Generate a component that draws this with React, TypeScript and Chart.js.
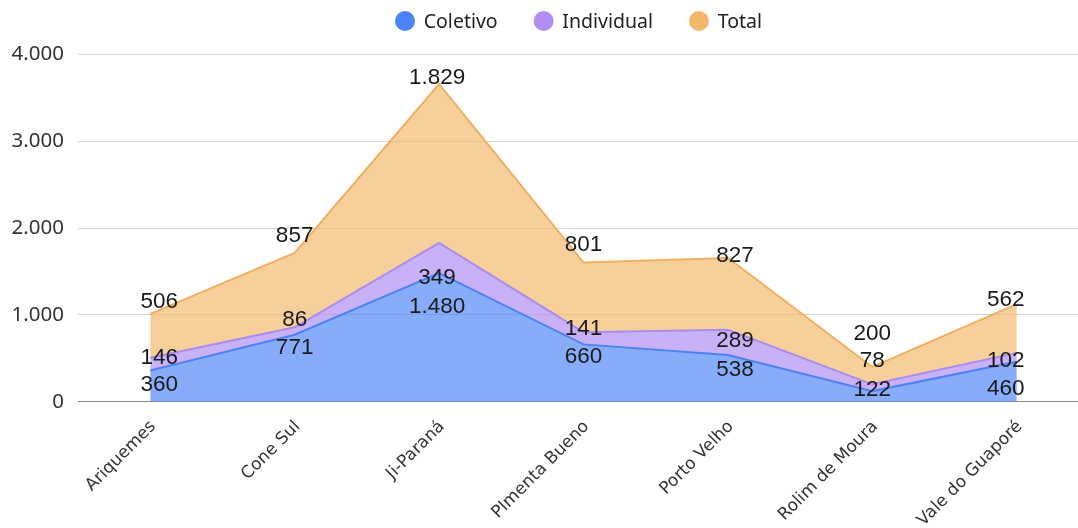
import React, { useEffect, useRef } from "react";
import { Chart, registerables } from "chart.js";

Chart.register(...registerables);

// ---- data ----
const categories = [
  "Ariquemes",
  "Cone Sul",
  "Ji-Paraná",
  "PImenta Bueno",
  "Porto Velho",
  "Rolim de Moura",
  "Vale do Guaporé",
];
const coletivo = [360, 771, 1480, 660, 538, 122, 460];
const individual = [146, 86, 349, 141, 289, 78, 102];
const total = [506, 857, 1829, 801, 827, 200, 562];
const yTicks = [0, 1000, 2000, 3000, 4000];

// ---- label nudges (px, relative to the stacked point) ----
const labelDx = [9, 0, -2, 0, 7, 0, -11];
const coletivoDy = [13, 11, 32, 11, 13, -3, 25];
const individualDy = [-2, -9, 33, -5, 9, -25, 6];
const totalDy = [-14, -19, -8, -20, -4, -35, -6];

const COLORS = {
  coletivo: { solid: "#4C84F7", line: "#4D82F2", fill: "rgba(76,132,247,0.67)" },
  individual: { solid: "#B08EF3", line: "#A98CF0", fill: "rgba(176,140,244,0.68)" },
  total: { solid: "#F2B76B", line: "#F0B062", fill: "rgba(242,184,106,0.67)" },
};

const fmt = (v: number) =>
  String(v).replace(/\B(?=(\d{3})+(?!\d))/g, ".");

const dataLabelPlugin = {
  id: "dataLabels",
  afterDatasetsDraw(chart: any) {
    const ctx = chart.ctx;
    const dys = [coletivoDy, individualDy, totalDy];
    ctx.save();
    const fs = 22.5;
    ctx.font = `${fs}px "Liberation Sans", Arial, sans-serif`;
    ctx.fillStyle = "#1a1a1a";
    ctx.textAlign = "center";
    ctx.textBaseline = "alphabetic";
    chart.data.datasets.forEach((ds: any, di: number) => {
      const meta = chart.getDatasetMeta(di);
      meta.data.forEach((pt: any, i: number) => {
        const cx = pt.x + labelDx[i];
        const cy = pt.y + dys[di][i];
        ctx.fillText(fmt(ds.data[i]), cx, cy + fs * 0.358);
      });
    });
    ctx.restore();
  },
};

const legendPlugin = {
  id: "customLegend",
  afterDraw(chart: any) {
    const ctx = chart.ctx;
    ctx.save();
    ctx.font = `19.5px "Noto Sans", sans-serif`;
    const items = chart.data.datasets.map((ds: any) => ({
      text: ds.label,
      color: ds.legendColor,
      w: ctx.measureText(ds.label).width,
    }));
    const r = 10;
    const gapText = 8.7;
    const gapItem = 36;
    const totalW =
      items.reduce((s: number, it: any) => s + 2 * r + gapText + it.w, 0) +
      gapItem * (items.length - 1);
    let x = (chart.chartArea.left + chart.chartArea.right) / 2 - totalW / 2 - 5;
    const y = 21;
    for (const it of items) {
      ctx.beginPath();
      ctx.arc(x + r, y, r, 0, Math.PI * 2);
      ctx.fillStyle = it.color;
      ctx.fill();
      ctx.fillStyle = "#222";
      ctx.textAlign = "left";
      ctx.textBaseline = "middle";
      ctx.fillText(it.text, x + 2 * r + gapText, y + 1);
      x += 2 * r + gapText + it.w + gapItem;
    }
    ctx.restore();
  },
};

export default function App() {
  const canvasRef = useRef<HTMLCanvasElement | null>(null);

  useEffect(() => {
    if (!canvasRef.current) return;
    const chart = new Chart(canvasRef.current, {
      type: "line",
      data: {
        labels: categories,
        datasets: [
          {
            label: "Coletivo",
            data: coletivo,
            borderColor: COLORS.coletivo.line,
            backgroundColor: COLORS.coletivo.fill,
            legendColor: COLORS.coletivo.solid,
            fill: "origin",
            borderWidth: 2,
            pointRadius: 0,
            tension: 0,
          } as any,
          {
            label: "Individual",
            data: individual,
            borderColor: COLORS.individual.line,
            backgroundColor: COLORS.individual.fill,
            legendColor: COLORS.individual.solid,
            fill: "-1",
            borderWidth: 2,
            pointRadius: 0,
            tension: 0,
          } as any,
          {
            label: "Total",
            data: total,
            borderColor: COLORS.total.line,
            backgroundColor: COLORS.total.fill,
            legendColor: COLORS.total.solid,
            fill: "-1",
            borderWidth: 2,
            pointRadius: 0,
            tension: 0,
          } as any,
        ],
      },
      options: {
        animation: false,
        responsive: true,
        maintainAspectRatio: false,
        layout: { padding: { top: 54.3, left: 0, right: 0, bottom: 0 } },
        plugins: {
          legend: { display: false },
          tooltip: { enabled: false },
        },
        scales: {
          x: {
            type: "category",
            offset: true,
            grid: { display: false, drawTicks: false },
            border: { display: true, color: "#8a8a8a", width: 1 },
            ticks: {
              autoSkip: false,
              maxRotation: 45,
              minRotation: 45,
              padding: 15,
              labelOffset: 3,
              color: "#333",
              font: { family: '"DejaVu Sans", sans-serif', size: 17 },
            },
            afterFit: (scale: any) => {
              scale.height = 126.3;
            },
          },
          y: {
            stacked: true,
            min: 0,
            max: 4000,
            afterBuildTicks: (scale: any) => {
              scale.ticks = yTicks.map((v) => ({ value: v }));
            },
            grid: { color: "#d4d4d4", drawTicks: false },
            border: { display: false },
            ticks: {
              padding: 14,
              color: "#333",
              font: { family: '"Noto Sans", sans-serif', size: 20.5 },
              callback: (v: any) => fmt(Number(v)),
            },
            afterFit: (scale: any) => {
              scale.width = 78;
            },
          },
        },
      },
      plugins: [dataLabelPlugin, legendPlugin],
    });
    return () => chart.destroy();
  }, []);

  return (
    <div
      style={{
        position: "fixed",
        left: 0,
        top: 0,
        width: 1078,
        height: 528,
        overflow: "hidden",
        background: "#fff",
      }}
    >
      <div style={{ position: "relative", width: 1089, height: 528 }}>
        <canvas ref={canvasRef} />
      </div>
    </div>
  );
}
